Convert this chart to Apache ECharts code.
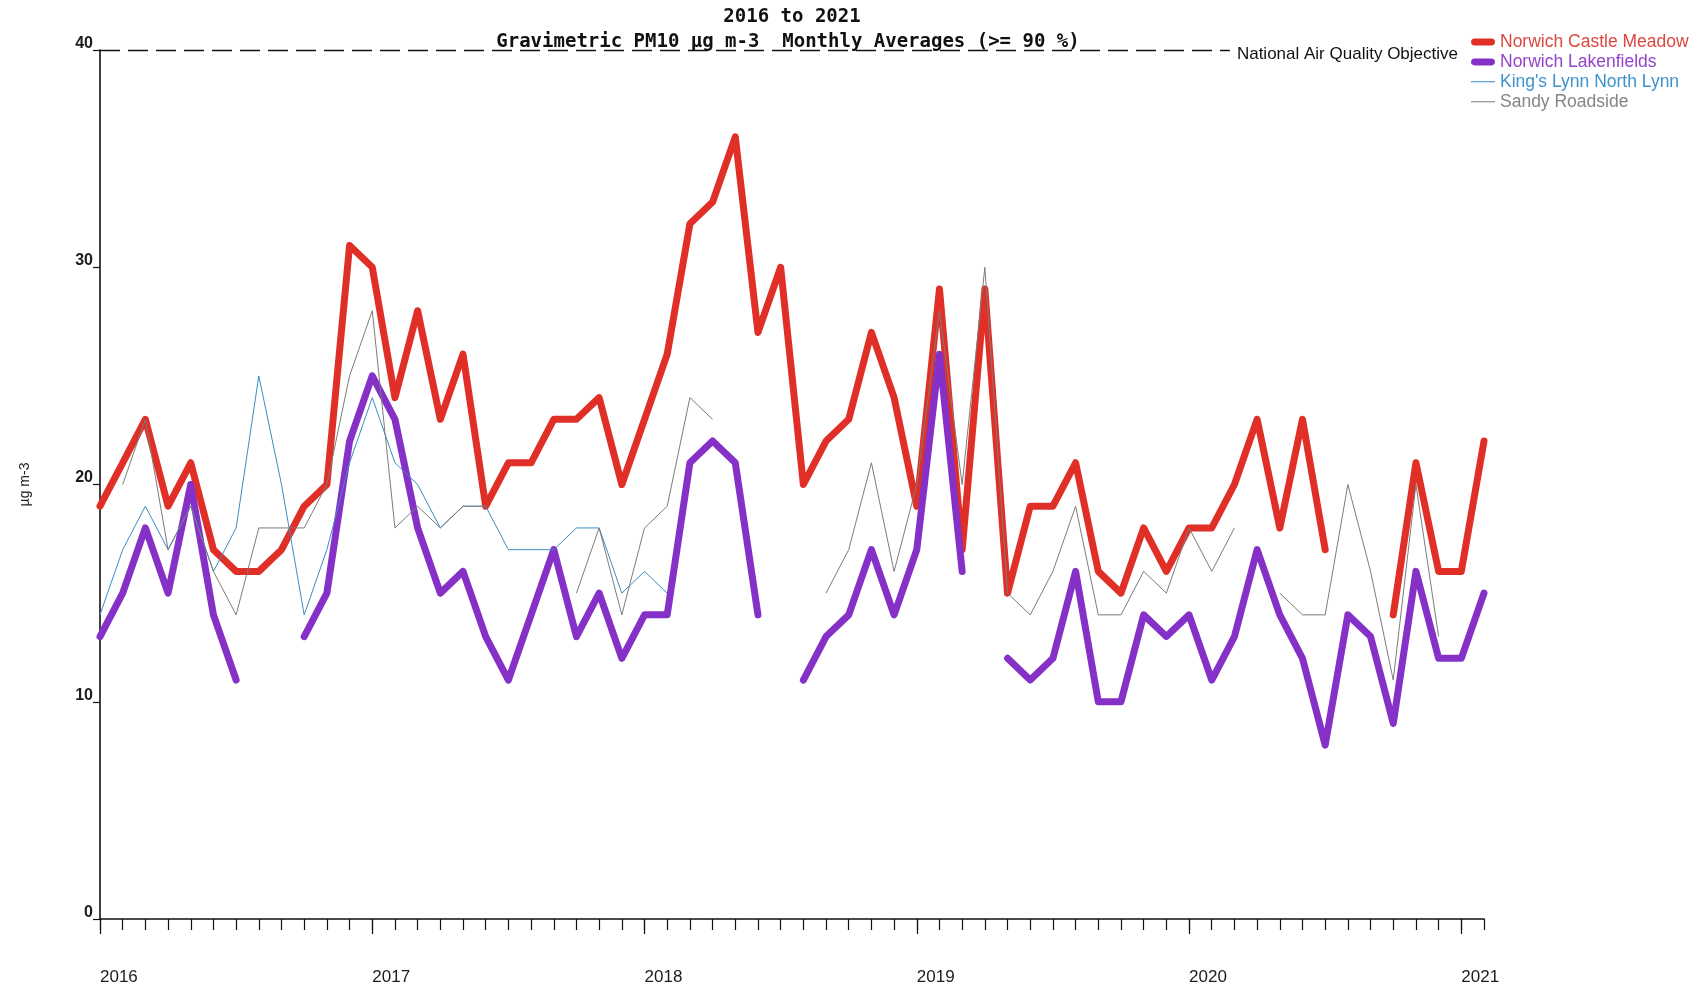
<!DOCTYPE html>
<html>
<head>
<meta charset="utf-8">
<title>Gravimetric PM10 Monthly Averages 2016 to 2021</title>
<script src="https://cdn.jsdelivr.net/npm/echarts@6/dist/echarts.min.js"></script>
<style>
  html, body { margin: 0; padding: 0; background: #fff; }
  #chart { width: 1700px; height: 989px; }
</style>
</head>
<body>
<div id="chart"></div>
<script>
// Monthly categories, Jan 2016 .. Feb 2021
const months = [
  '2016-01','2016-02','2016-03','2016-04','2016-05','2016-06','2016-07','2016-08','2016-09','2016-10','2016-11','2016-12',
  '2017-01','2017-02','2017-03','2017-04','2017-05','2017-06','2017-07','2017-08','2017-09','2017-10','2017-11','2017-12',
  '2018-01','2018-02','2018-03','2018-04','2018-05','2018-06','2018-07','2018-08','2018-09','2018-10','2018-11','2018-12',
  '2019-01','2019-02','2019-03','2019-04','2019-05','2019-06','2019-07','2019-08','2019-09','2019-10','2019-11','2019-12',
  '2020-01','2020-02','2020-03','2020-04','2020-05','2020-06','2020-07','2020-08','2020-09','2020-10','2020-11','2020-12',
  '2021-01','2021-02'
];

// Monthly mean PM10 (µg m-3); null = month below 90 % data capture
const castleMeadow = [
  19,21,23,19,21,17,16,16,17,19,20,31,
  30,24,28,23,26,19,21,21,23,23,24,20,
  23,26,32,33,36,27,30,20,22,23,27,24,
  19,29,17,29,15,19,19,21,16,15,18,16,
  18,18,20,23,18,23,17,null,null,14,21,16,
  16,22
];
const lakenfields = [
  13,15,18,15,20,14,11,null,null,13,15,22,
  25,23,18,15,16,13,11,14,17,13,15,12,
  14,14,21,22,21,14,null,11,13,14,17,14,
  17,26,16,null,12,11,12,16,10,10,14,13,
  14,11,13,17,14,12,8,14,13,9,16,12,
  12,15
];
const kingsLynn = [
  14,17,19,17,19,16,18,25,20,14,17,21,
  24,21,20,18,19,19,17,17,17,18,18,15,
  16,15,null,null,null,null,null,null,null,null,null,null,
  null,null,null,null,null,null,null,null,null,null,null,null,
  null,null,null,null,null,null,null,null,null,null,null,null,
  null,null
];
const sandyRoadside = [
  null,20,23,17,19,16,14,18,18,18,20,25,
  28,18,19,18,19,19,null,null,null,15,18,14,
  18,19,24,23,null,null,null,null,15,17,21,16,
  20,28,20,30,15,14,16,19,14,14,16,15,
  18,16,18,null,15,14,14,20,16,11,20,13,
  null,null
];

const objectiveValue = 40;
const objectiveText = 'National Air Quality Objective';
const yTicks = { min: 0, max: 40, step: 10 };

const seriesNames = ['Norwich Castle Meadow', 'Norwich Lakenfields', "King's Lynn North Lynn", 'Sandy Roadside'];
const lineColors = ['#e02f27', '#8530c6', '#3a8dc6', '#7c7c7c'];
const legendTextColors = ['#dc4840', '#9544c8', '#3f93cb', '#858585'];

// legend keys: a rounded bar for the thick series, a hairline for the thin ones
const pillIcon = 'path://M3.5,0 L20.5,0 L22.5,0.6 L23.6,1.8 L24,3.5 L23.6,5.2 L22.5,6.4 L20.5,7 L3.5,7 L1.5,6.4 L0.4,5.2 L0,3.5 L0.4,1.8 L1.5,0.6 Z';
const hairIcon = 'path://M0,0 L0,0 Z M0,3 L24,3 L24,4 L0,4 Z M24,7 L24,7 Z';

const sans = '"Liberation Sans", Arial, sans-serif';
const mono = '"DejaVu Sans Mono", "Liberation Mono", monospace';

const chart = echarts.init(document.getElementById('chart'), null, { renderer: 'canvas' });

const gridLeft = 100, gridRight = 216, gridTop = 50, gridBottom = 70;
const centreX = gridLeft + (1700 - gridLeft - gridRight) / 2;

function thickLine(i, values, z) {
  return {
    name: seriesNames[i], type: 'line', data: values,
    symbol: 'none', showSymbol: false, connectNulls: false, clip: false, z: z,
    lineStyle: { color: lineColors[i], width: 7, cap: 'round', join: 'round' },
    itemStyle: { color: lineColors[i] },
    emphasis: { disabled: true }
  };
}
function thinLine(i, values, z) {
  return {
    name: seriesNames[i], type: 'line', data: values,
    symbol: 'none', showSymbol: false, connectNulls: false, z: z,
    lineStyle: { color: lineColors[i], width: 1 },
    itemStyle: { color: lineColors[i] },
    emphasis: { disabled: true }
  };
}

const meadow = thickLine(0, castleMeadow, 2);
meadow.markLine = {
  silent: true,
  symbol: 'none',
  animation: false,
  lineStyle: { color: '#111', width: 1.3, type: [20, 8] },
  label: {
    show: true,
    position: 'insideEndBottom',
    distance: [0, -4],
    formatter: objectiveText,
    color: '#111',
    fontFamily: sans,
    fontSize: 17,
    backgroundColor: '#fff',
    padding: [0, 26, 0, 7]
  },
  data: [{ yAxis: objectiveValue }]
};

const option = {
  animation: false,
  backgroundColor: '#fff',
  grid: { left: gridLeft, right: gridRight, top: gridTop, bottom: gridBottom, containLabel: false },
  graphic: [
    {
      type: 'text', x: centreX, y: 17, z: 10,
      style: { text: '2016 to 2021', align: 'center', verticalAlign: 'middle',
               font: 'bold 19px ' + mono, fill: '#111' }
    },
    {
      type: 'text', x: 788, y: 42, z: 10,
      style: { text: 'Gravimetric PM10 µg m-3  Monthly Averages (>= 90 %)', align: 'center', verticalAlign: 'middle',
               font: 'bold 19px ' + mono, fill: '#111' }
    }
  ],
  legend: {
    orient: 'vertical',
    left: 1471, top: 33, padding: 0, z: 20,
    itemWidth: 24, itemHeight: 7, itemGap: 1.9,
    selectedMode: false,
    textStyle: { fontFamily: sans, fontSize: 17.5 },
    data: seriesNames.map((n, i) => ({
      name: n,
      icon: i < 2 ? pillIcon : hairIcon,
      itemStyle: { color: lineColors[i], borderWidth: 0 },
      textStyle: { color: legendTextColors[i] }
    }))
  },
  xAxis: [
    {
      type: 'category', data: months, boundaryGap: false,
      axisLine: { show: true, lineStyle: { color: '#111', width: 1.6 } },
      axisTick: { show: true, interval: 0, length: 11, lineStyle: { color: '#111', width: 1.2 } },
      axisLabel: {
        show: true, interval: (idx) => idx % 12 === 0,
        formatter: (v) => v.slice(0, 4),
        align: 'left', margin: 50,
        fontFamily: sans, fontSize: 17, color: '#1c1c1c'
      },
      splitLine: { show: false }
    },
    {
      type: 'category', data: months, boundaryGap: false, position: 'bottom',
      axisLine: { show: false },
      axisTick: { show: true, interval: (idx) => idx % 12 === 0, length: 15, lineStyle: { color: '#111', width: 1.2 } },
      axisLabel: { show: false },
      splitLine: { show: false }
    }
  ],
  yAxis: {
    type: 'value', min: yTicks.min, max: yTicks.max, interval: yTicks.step,
    name: 'µg m-3', nameLocation: 'middle', nameRotate: 90, nameGap: 68,
    nameTextStyle: { fontFamily: sans, fontSize: 14, color: '#222' },
    axisLine: { show: true, lineStyle: { color: '#111', width: 1.6 } },
    axisTick: { show: true, length: 7, lineStyle: { color: '#111', width: 1.2 } },
    axisLabel: {
      margin: 7, verticalAlign: 'bottom', lineHeight: 13,
      fontFamily: sans, fontSize: 16, fontWeight: 'bold', color: '#1c1c1c',
      padding: [0, 0, 0, 0]
    },
    splitLine: { show: false }
  },
  series: [
    meadow,
    thickLine(1, lakenfields, 3),
    thinLine(2, kingsLynn, 4),
    thinLine(3, sandyRoadside, 5)
  ]
};

chart.setOption(option);
</script>
</body>
</html>
